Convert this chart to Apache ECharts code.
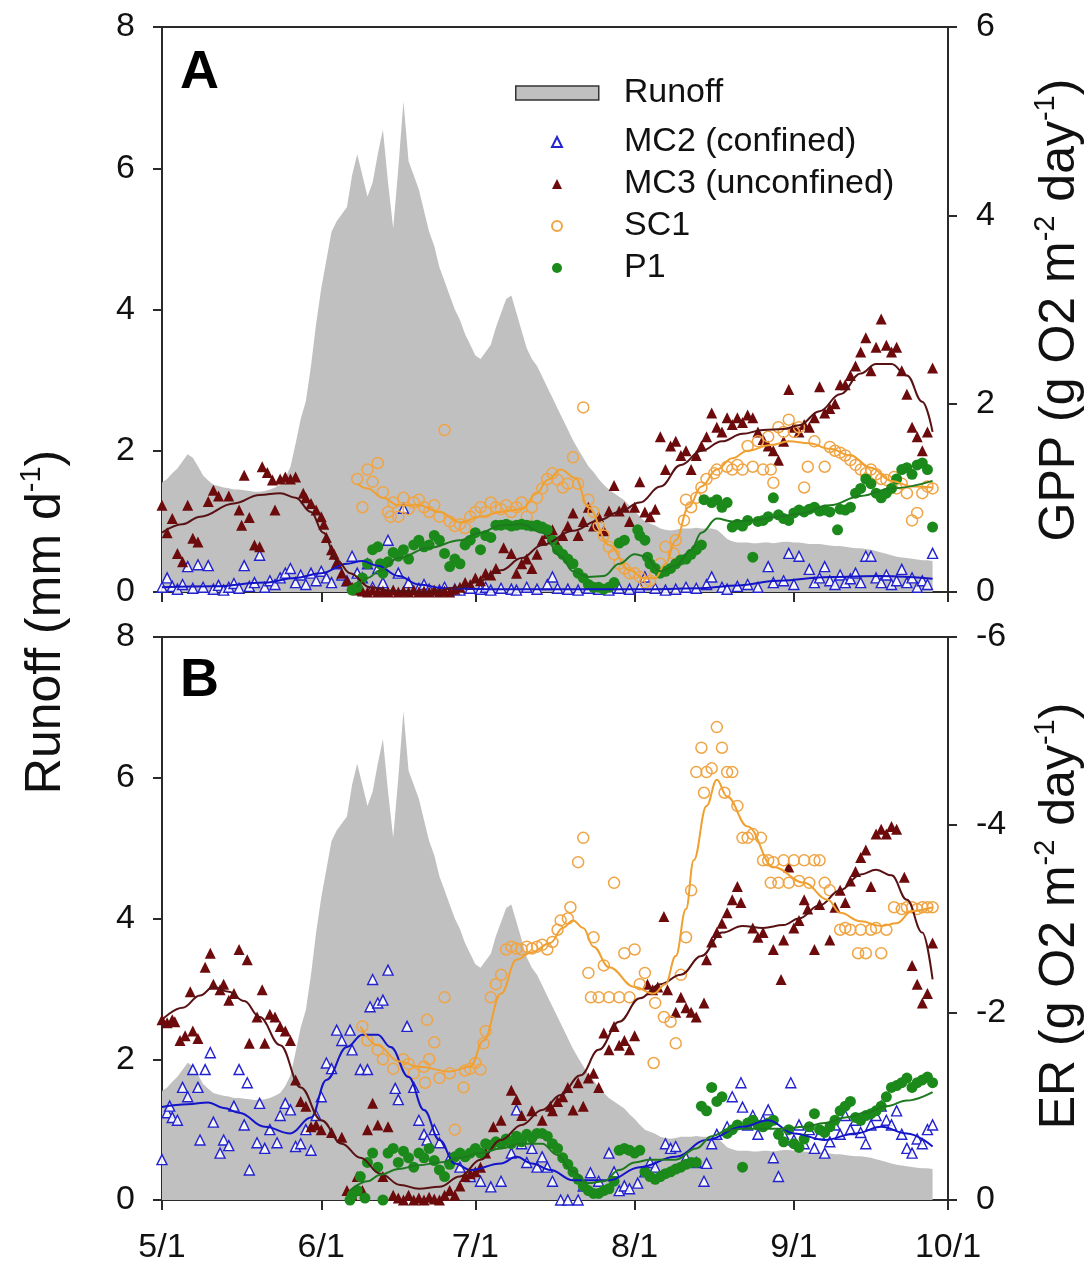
<!DOCTYPE html>
<html><head><meta charset="utf-8">
<script src="https://cdn.jsdelivr.net/npm/echarts@6/dist/echarts.min.js"></script>
<style>html,body{margin:0;padding:0;background:#fff}#c{width:1091px;height:1285px}</style>
</head><body><div id="c"></div>
<script>
// x = days since 5/1
const xTickDays = [0, 31, 61, 92, 123, 153];
const xTickLabels = ['5/1', '6/1', '7/1', '8/1', '9/1', '10/1'];
const yLeftTicks = [0, 2, 4, 6, 8];

// daily runoff (mm/d), day 0..150
const runoff = [1.55,1.6,1.68,1.75,1.85,1.95,1.9,1.78,1.65,1.58,1.52,1.5,1.48,1.47,1.45,1.45,1.44,1.43,1.42,1.42,
1.43,1.45,1.48,1.52,1.62,1.77,2.1,2.45,2.7,3.2,3.8,4.3,4.7,5.1,5.25,5.35,5.45,5.9,6.2,5.9,
5.6,5.8,6.2,6.55,5.8,5.15,6.0,6.95,6.1,5.9,5.7,5.4,5.1,4.9,4.6,4.4,4.2,4.0,3.85,3.65,
3.5,3.35,3.3,3.4,3.5,3.75,3.95,4.15,4.2,3.95,3.7,3.45,3.3,3.2,3.05,2.9,2.75,2.6,2.45,2.3,
2.15,2.02,1.9,1.78,1.7,1.6,1.52,1.45,1.4,1.35,1.3,1.22,1.15,1.07,1.0,0.97,0.94,0.9,0.88,0.87,
0.88,0.9,0.9,0.9,0.91,0.9,0.9,0.9,0.88,0.82,0.75,0.72,0.7,0.7,0.7,0.69,0.69,0.7,0.7,0.69,
0.7,0.71,0.71,0.7,0.7,0.69,0.68,0.68,0.68,0.67,0.66,0.65,0.65,0.64,0.63,0.62,0.62,0.61,0.6,0.58,
0.56,0.54,0.52,0.5,0.49,0.48,0.47,0.46,0.45,0.45,0.44];

// ---------- Panel A: GPP ----------
const mc2Gpp = [[0,0.05],[1,0.15],[2,0.06],[3,0.03],[4,0.08],[5,0.27],[6,0.04],[7,0.29],[8,0.05],[9,0.28],[10,0.03],[11,0.07],[12,0.02],[13,0.05],[14,0.09],[15,0.04],[16,0.28],[17,0.06],[18,0.1],[19,0.39],[20,0.05],[21,0.12],[22,0.08],[23,0.15],[24,0.2],[25,0.25],[26,0.1],[27,0.18],[28,0.08],[29,0.2],[30,0.12],[31,0.22],[32,0.15],[33,0.1],[34,0.3],[35,0.18],[36,0.12],[37,0.38],[38,0.2],[39,0.15],[40,0.3],[41,0.05],[42,0.25],[43,0.1],[44,0.55],[46,0.2],[47,0.89],[48,0.1],[50,0.04],[51,0.08],[52,0.03],[54,0.02],[55,0.05],[57,0.03],[58,0.02],[60,0.04],[62,0.03],[63,0.05],[64,0.02],[66,0.04],[68,0.03],[69,0.02],[71,0.05],[73,0.03],[75,0.08],[76,0.16],[77,0.04],[79,0.03],[81,0.02],[83,0.04],[85,0.03],[87,0.02],[89,0.04],[91,0.03],[93,0.05],[94,0.16],[96,0.04],[98,0.02],[100,0.03],[102,0.05],[104,0.04],[106,0.08],[107,0.16],[109,0.05],[110,0.03],[112,0.06],[114,0.08],[116,0.05],[118,0.27],[119,0.1],[121,0.12],[122,0.41],[123,0.08],[124,0.38],[126,0.24],[127,0.1],[128,0.15],[129,0.27],[130,0.12],[131,0.08],[132,0.18],[133,0.1],[134,0.14],[135,0.2],[136,0.1],[137,0.38],[138,0.38],[139,0.15],[140,0.1],[141,0.18],[142,0.08],[143,0.12],[144,0.24],[145,0.1],[146,0.15],[147,0.05],[148,0.12],[149,0.08],[150,0.41]];
const mc2GppFit = [[0,0.05],[10,0.06],[20,0.1],[26,0.15],[31,0.2],[36,0.3],[39,0.33],[42,0.28],[46,0.17],[50,0.08],[55,0.04],[65,0.03],[80,0.03],[95,0.03],[105,0.04],[112,0.07],[120,0.12],[130,0.16],[140,0.17],[150,0.14]];

const mc3Gpp = [[0,0.92],[1,0.63],[2,0.78],[3,0.41],[4,0.32],[5,0.92],[6,0.57],[7,0.53],[9,0.96],[10,1.08],[11,1.02],[13,1.02],[15,0.87],[15.5,0.71],[16,1.24],[17,0.79],[18,0.5],[19,0.48],[19.5,1.33],[20.5,1.27],[21.5,1.19],[22,0.87],[23,1.2],[24,1.22],[25,1.2],[26,1.22],[27.5,1.05],[28,1.0],[29,0.94],[30,0.87],[31,0.8],[31.5,0.72],[32,0.58],[33,0.45],[33.5,0.4],[34,0.31],[35,0.2],[36,0.12],[37,0.05],[38,0.02],[39,0.01],[40,0],[41,0.02],[42,0],[43,0.01],[44,0],[45,0.02],[46,0],[47,0.01],[48,0],[49,0.02],[50,0],[51,0.01],[52,0],[53,0.02],[54,0],[55,0.01],[56,0],[57,0.03],[58,0.05],[59,0.1],[60,0.08],[61,0.15],[62,0.12],[63,0.2],[64,0.18],[65,0.25],[66.5,0.47],[68,0.41],[69,0.2],[70,0.3],[71,0.35],[72,0.25],[73,0.4],[74,0.55],[75,0.62],[76,0.66],[77,0.5],[78,0.6],[79,0.7],[80,0.84],[81,0.6],[82,0.75],[83,0.9],[84,0.7],[85,0.8],[86,0.65],[87,0.86],[88,1.13],[89,0.86],[90,0.9],[91,0.75],[92,0.9],[93,1.17],[94,0.85],[95,0.8],[96,0.88],[97,1.65],[98,1.3],[99,1.55],[100,1.6],[101,1.45],[102,1.5],[103,1.3],[104,1.45],[105,1.55],[106,1.65],[107,1.9],[108,1.75],[109,1.7],[110,1.85],[111,1.78],[112,1.85],[113,1.8],[114,1.88],[115,1.85],[116,1.7],[117,1.62],[118,1.55],[119,1.5],[120,1.4],[121,1.6],[122,2.15],[123,1.75],[124,1.7],[125,1.78],[126,1.75],[127,1.85],[128,2.18],[129,1.9],[130,1.95],[131,2.0],[132,2.2],[133,2.2],[134,2.3],[135,2.4],[136,2.55],[137,2.7],[138,2.35],[139,2.6],[140,2.9],[141,2.62],[142,2.55],[143,2.6],[144,2.35],[145,2.1],[146,1.75],[147,1.65],[148,1.5],[149,1.7],[150,2.38]];
const mc3GppFit = [[0,0.63],[4,0.72],[7.4,0.8],[14,0.94],[19,1.03],[23,1.05],[26,1.0],[29,0.85],[31.4,0.63],[34,0.34],[36.6,0.2],[40.5,0.05],[45,0.01],[52,0],[58,0.05],[62,0.12],[66,0.23],[70,0.36],[74,0.5],[80,0.65],[85,0.76],[89,0.85],[93,0.95],[97,1.12],[101,1.35],[105,1.5],[109,1.6],[113,1.68],[117,1.72],[121,1.73],[124,1.77],[128,1.92],[132,2.1],[136,2.32],[139,2.42],[142,2.42],[145,2.3],[148,2.02],[150,1.7]];

const sc1Gpp = [[38,1.2],[39,0.9],[40,1.3],[41,1.17],[42,1.37],[43,1.06],[44,0.85],[44.5,0.8],[45,0.95],[46,0.8],[47,1.0],[48,0.88],[49,0.95],[50,0.98],[51,0.9],[52,0.85],[53,0.92],[54,0.8],[55,1.72],[56,0.75],[57,0.7],[58,0.72],[59,0.68],[60,0.8],[61,0.85],[62,0.9],[63,0.85],[64,0.95],[65,0.9],[66,0.88],[67,0.92],[68,0.85],[69,0.9],[70,0.95],[71,0.8],[72,0.9],[73,1.0],[74,1.1],[75,1.2],[76,1.26],[77,1.19],[78,1.11],[79,1.15],[80,1.43],[81,1.15],[82,1.96],[83,0.98],[84,0.85],[85,0.7],[86,0.6],[87,0.48],[88,0.4],[89,0.3],[90,0.25],[91,0.2],[92,0.2],[93,0.16],[94,0.1],[95,0.12],[96,0.2],[97,0.3],[98,0.48],[99.6,0.41],[100,0.55],[101.6,0.76],[102,0.98],[103,0.9],[104,1.0],[105,1.11],[106,1.2],[107.5,1.26],[108,1.3],[110,1.33],[111,1.3],[112,1.35],[113,1.3],[114,1.55],[115,1.33],[116,1.6],[117,1.3],[118,1.65],[118.5,1.3],[119,1.16],[120,1.75],[121,1.7],[122,1.83],[123,1.7],[124,1.75],[125,1.11],[125.7,1.33],[127,1.6],[129,1.33],[130,1.54],[131,1.5],[132,1.48],[133,1.45],[134,1.4],[135,1.35],[136,1.3],[137,1.26],[138,1.3],[139,1.25],[140,1.2],[141,1.19],[142.5,1.22],[143,1.1],[144,1.15],[145,1.05],[146,0.76],[147,0.84],[148,1.05],[149,1.12],[150,1.1]];
const sc1GppFit = [[38,1.15],[40,1.1],[43,1.0],[46,0.92],[50,0.92],[54,0.85],[58,0.74],[62,0.8],[66,0.85],[70,0.88],[73,1.05],[75,1.19],[77.6,1.3],[80.5,1.21],[83,0.9],[87,0.5],[91,0.23],[94,0.14],[96,0.15],[98,0.3],[100,0.55],[102.5,0.9],[105,1.12],[108,1.3],[111,1.42],[114,1.5],[118.5,1.56],[122,1.6],[126,1.58],[130,1.52],[134,1.45],[138,1.32],[142,1.18],[146,1.12],[150,1.11]];

const p1Gpp = [[37,0.02],[38,0.05],[39,0.15],[40,0.3],[41,0.45],[42,0.48],[42.5,0.3],[43,0.2],[44,0.32],[45,0.42],[46,0.38],[47,0.45],[48,0.35],[49,0.5],[50,0.55],[51,0.48],[52,0.5],[53,0.6],[54,0.55],[55,0.41],[56,0.27],[57,0.35],[58,0.3],[59,0.5],[60,0.55],[61,0.63],[62,0.45],[63,0.6],[64,0.58],[65,0.71],[66,0.71],[67,0.72],[68,0.7],[69,0.71],[70,0.72],[71,0.71],[72,0.7],[73,0.71],[74,0.69],[75,0.66],[76,0.55],[77,0.45],[78,0.4],[79,0.35],[80,0.3],[81,0.2],[82,0.15],[83,0.08],[84,0.05],[85,0.05],[86,0.03],[87,0.05],[88,0.1],[89,0.52],[90,0.55],[92.6,0.66],[93,0.6],[94,0.55],[94.5,0.37],[95,0.3],[96,0.25],[97,0.2],[98,0.22],[99,0.25],[100,0.3],[101,0.34],[102,0.35],[103,0.4],[104,0.45],[105,0.5],[105.5,0.98],[107,0.95],[108,0.98],[109,0.9],[110,0.95],[111,0.69],[112,0.72],[113,0.7],[114,0.76],[115,0.37],[116,0.75],[117,0.76],[118,0.8],[119,1.0],[120,0.82],[121,0.78],[122,0.76],[123,0.84],[124,0.87],[125,0.85],[126,0.88],[127,0.9],[128,0.86],[129,0.87],[130,0.85],[131.5,0.66],[132,0.88],[133,0.87],[134,0.9],[135,1.05],[136,1.1],[137,1.2],[138,1.15],[139,1.05],[140,1.0],[141,1.05],[142,1.1],[143,1.2],[144,1.3],[145,1.32],[146,1.25],[147,1.35],[148,1.37],[149,1.3],[150,0.69]];
const p1GppFit = [[38,0.05],[40,0.15],[42.5,0.23],[46,0.36],[52,0.47],[58,0.55],[62,0.63],[66,0.71],[70,0.72],[74,0.63],[77.6,0.38],[80,0.22],[83,0.16],[86,0.17],[89,0.3],[92,0.4],[94,0.38],[97,0.22],[100,0.28],[103,0.45],[105,0.63],[108,0.78],[111,0.75],[115,0.76],[120,0.8],[124,0.83],[130,0.92],[136,1.02],[142,1.1],[150,1.18]];

// ---------- Panel B: ER ----------
const mc2Er = [[0,-0.43],[1,-0.93],[1.5,-1.0],[2,-0.88],[3,-0.85],[4,-1.2],[5,-1.1],[6,-1.39],[7,-1.2],[7.4,-0.64],[8.4,-1.39],[9.4,-1.57],[10,-0.83],[11.3,-0.5],[12,-0.64],[13,-0.58],[14,-1.0],[15,-1.39],[16,-0.8],[16.6,-1.25],[17,-0.32],[18.5,-0.61],[19,-1.03],[20,-0.55],[21,-0.75],[22.4,-0.61],[23,-0.9],[24,-1.03],[25,-0.96],[26,-0.57],[27,-0.6],[28,-0.75],[29,-0.53],[30,-0.9],[31,-1.1],[32,-1.46],[33,-1.4],[34,-1.81],[35,-1.7],[36.6,-1.81],[37,-1.6],[38.6,-1.39],[40,-1.39],[40.5,-2.06],[41,-2.35],[42,-2.1],[43,-2.13],[44,-2.45],[45.4,-1.19],[46,-1.07],[47.7,-1.85],[49,-1.2],[50,-0.85],[51,-0.7],[51.6,-0.64],[53,-0.75],[54,-0.61],[56,-0.45],[58,-0.35],[60,-0.25],[62,-0.2],[64,-0.14],[66,-0.2],[68,-0.5],[69,-0.96],[70,-0.6],[71,-0.4],[72,-0.55],[73,-0.35],[74,-0.46],[75,-0.35],[76,-0.2],[77.6,0],[79,0],[81,0],[82,-0.15],[83.4,-0.29],[85,-0.2],[87,-0.5],[88,-0.3],[89,-0.1],[90,-0.15],[91,-0.12],[92.6,-0.18],[94,-0.3],[95,-0.4],[96,-0.35],[98,-0.6],[99,-0.55],[100,-0.57],[102,-0.45],[104,-0.4],[105.5,-0.2],[106,-0.39],[107,-0.6],[108,-0.7],[110,-0.78],[111,-1.1],[112.7,-1.25],[113,-0.99],[114,-0.8],[115,-0.9],[116,-0.7],[117,-0.85],[118,-0.96],[119,-0.45],[120,-0.25],[121,-0.7],[122.4,-1.25],[123,-0.64],[124,-0.8],[125,-0.6],[126,-0.75],[127,-0.55],[128,-0.7],[129,-0.5],[130,-0.62],[131,-0.8],[132,-0.7],[133,-0.9],[134,-0.75],[135,-0.85],[136,-0.72],[137,-0.6],[138,-0.8],[139,-0.9],[140,-1.0],[141,-0.85],[142,-0.8],[143,-0.95],[144,-0.7],[145,-0.55],[146,-0.5],[147,-0.65],[148,-0.6],[149,-0.75],[150,-0.8]];
const mc2ErFit = [[0,-0.99],[5,-1.02],[9,-1.04],[12,-0.98],[15,-0.93],[20,-0.78],[25,-0.71],[29,-0.88],[32,-1.28],[36,-1.63],[39,-1.76],[42,-1.76],[44.5,-1.63],[48,-1.31],[51,-0.96],[54,-0.64],[57,-0.39],[60,-0.32],[66,-0.39],[69,-0.46],[72,-0.39],[75.6,-0.32],[80,-0.21],[87,-0.21],[93,-0.35],[100,-0.46],[106,-0.64],[113,-0.78],[118,-0.85],[123,-0.71],[129,-0.64],[135,-0.71],[140,-0.78],[145,-0.71],[150,-0.57]];

const mc3Er = [[0,-1.92],[1,-1.89],[2,-1.92],[2.5,-1.9],[3.5,-1.7],[4.5,-1.75],[5.5,-2.22],[6,-1.8],[7,-1.72],[8.4,-2.48],[9.4,-2.63],[10,-2.3],[11.3,-2.24],[12,-2.3],[13,-2.13],[14,-2.2],[15,-2.67],[16.6,-2.56],[17,-1.67],[18.5,-1.95],[19.5,-2.24],[20,-1.67],[21,-1.98],[22,-1.95],[23,-1.85],[24,-1.8],[25,-1.7],[26,-1.28],[27,-1.05],[28,-1.0],[29,-0.78],[30,-0.8],[31,-0.75],[33,-0.72],[35,-0.67],[36,-0.1],[37,-0.05],[38,-0.25],[39,-0.1],[40,-0.75],[41,-1.03],[42,-0.8],[43,-0.25],[44,-0.78],[45,-0.05],[46,-0.02],[47,0],[48,-0.05],[49,0],[50,-0.02],[51,0],[52,-0.03],[53,-0.01],[54,0],[55,-0.05],[56,-0.1],[57,-0.05],[58,-0.15],[59,-0.25],[60,-0.28],[61,-0.3],[62,-0.35],[63,-0.5],[64.5,-0.78],[66,-0.85],[68,-1.17],[69,-1.07],[70,-0.9],[72,-0.95],[74,-0.85],[75.6,-1.0],[76,-0.95],[77,-1.05],[78,-1.1],[79,-1.2],[80,-0.96],[81,-1.25],[82,-1.0],[83,-1.3],[84,-1.35],[85,-1.2],[86,-1.78],[87,-1.6],[88,-1.85],[89,-1.65],[90,-1.7],[91,-1.6],[92,-1.75],[94.5,-2.3],[95.5,-2.24],[96.5,-2.27],[97.7,-3.02],[98.4,-2.24],[100,-2.0],[101,-2.16],[102,-2.05],[103,-2.0],[104,-1.95],[105.5,-2.1],[106,-2.56],[107,-2.75],[108,-2.85],[109,-2.95],[110,-3.06],[111,-3.2],[112,-3.34],[112.7,-3.17],[115,-2.9],[116,-2.8],[117,-2.85],[119,-2.67],[120.5,-2.35],[121,-2.77],[122,-3.55],[123,-2.9],[124,-2.98],[125,-3.2],[125.7,-3.1],[127,-2.67],[128,-3.15],[130,-2.77],[131,-3.12],[132,-3.3],[133,-3.17],[134,-3.4],[135,-3.5],[136,-3.65],[137,-3.73],[138,-3.34],[139,-3.9],[140,-3.95],[141,-3.9],[142,-3.98],[143,-3.95],[144.5,-3.44],[146,-2.5],[147,-2.3],[148,-2.1],[149,-2.2],[150,-2.74]];
const mc3ErFit = [[0,-1.92],[4,-2.05],[7.4,-2.18],[10,-2.27],[13,-2.22],[16,-2.12],[19,-1.95],[23,-1.65],[27,-1.2],[31,-0.85],[35,-0.6],[38.6,-0.45],[42.5,-0.28],[46.4,-0.16],[50,-0.12],[54,-0.14],[58,-0.25],[62,-0.43],[66,-0.64],[70,-0.8],[74,-0.96],[77.6,-1.12],[81.5,-1.33],[85,-1.6],[89,-1.9],[93,-2.15],[97,-2.3],[101,-2.4],[105,-2.6],[109,-2.85],[113,-2.92],[117,-2.9],[121,-2.93],[124,-3.0],[128,-3.14],[132,-3.3],[136,-3.47],[139,-3.52],[142,-3.46],[145,-3.2],[148,-2.85],[150,-2.35]];

const sc1Er = [[39,-1.85],[40,-1.7],[42,-1.6],[43,-1.5],[45,-1.4],[47,-1.5],[48,-1.45],[49,-1.35],[51,-1.42],[51.2,-1.25],[51.6,-1.92],[52,-1.5],[53,-1.68],[54,-1.3],[55,-2.16],[56,-1.35],[57,-0.75],[58.7,-1.2],[59,-1.38],[60,-1.4],[61,-1.46],[62,-1.39],[62.6,-1.67],[63,-1.8],[64,-2.16],[65,-2.3],[66,-2.4],[67,-2.67],[68,-2.7],[69,-2.68],[70,-2.67],[71,-2.7],[72,-2.68],[73,-2.7],[74,-2.72],[75,-2.67],[76,-2.75],[77,-2.88],[77.6,-2.98],[79,-3.0],[79.5,-3.12],[81,-3.6],[82,-3.86],[83,-2.42],[83.5,-2.16],[84,-2.8],[85,-2.16],[86,-2.5],[87,-2.16],[88,-3.38],[89,-2.16],[90,-2.63],[91,-2.16],[92,-2.67],[93,-2.3],[94,-2.42],[95.7,-1.46],[96,-2.1],[97.7,-1.95],[99,-1.9],[100,-1.67],[101,-2.4],[102,-2.8],[103,-3.3],[104,-4.56],[105,-4.82],[105.5,-4.34],[106,-4.56],[107,-4.6],[108,-5.04],[109,-4.82],[109.5,-4.34],[110,-4.56],[111,-4.56],[112,-4.2],[113,-3.86],[114,-3.86],[115,-3.9],[116.6,-3.86],[117,-3.62],[118,-3.62],[118.5,-3.38],[119,-3.6],[120,-3.38],[121,-3.62],[122,-3.38],[123,-3.62],[124,-3.4],[125,-3.62],[126,-3.38],[127,-3.62],[128,-3.62],[129,-3.38],[130,-3.3],[132,-2.88],[133,-2.9],[134,-2.88],[135.5,-2.63],[136,-2.88],[137,-2.63],[138,-2.88],[139,-2.9],[140,-2.63],[141,-2.88],[142.5,-3.12],[144,-3.1],[145,-3.12],[146,-3.12],[147,-3.1],[148,-3.12],[149,-3.12],[150,-3.12]];
const sc1ErFit = [[38.6,-1.85],[42,-1.65],[46,-1.48],[50,-1.42],[56,-1.37],[60,-1.42],[62.6,-1.7],[66,-2.2],[69,-2.56],[72,-2.64],[75.6,-2.74],[78,-2.9],[80,-2.98],[82,-2.9],[84,-2.7],[87,-2.48],[92,-2.27],[95.7,-2.2],[98,-2.3],[100,-2.6],[102,-3.1],[103.5,-3.62],[106,-4.2],[108,-4.48],[110,-4.3],[114,-3.98],[119,-3.55],[125,-3.38],[129.6,-3.2],[132,-3.06],[136,-2.97],[140,-2.92],[143,-2.95],[146,-3.08],[150,-3.12]];

const p1Er = [[36.6,0],[37,-0.05],[38,-0.1],[38.6,-0.25],[39.5,-0.02],[40,-0.4],[41,-0.5],[42,-0.35],[43,0],[44,-0.5],[45,-0.55],[46,-0.4],[47,-0.52],[48,-0.45],[49,-0.35],[50,-0.5],[51,-0.45],[52,-0.55],[53,-0.42],[54,-0.32],[55,-0.25],[56,-0.38],[57,-0.46],[58,-0.5],[59,-0.46],[60,-0.5],[61,-0.55],[62,-0.5],[63,-0.6],[64,-0.58],[65,-0.62],[66,-0.6],[67,-0.65],[68,-0.6],[69,-0.68],[70,-0.62],[71,-0.7],[72,-0.66],[73,-0.71],[74,-0.71],[75,-0.68],[76,-0.6],[77,-0.55],[78,-0.45],[79,-0.38],[80,-0.3],[81,-0.22],[82,-0.15],[83,-0.1],[84,-0.07],[85,-0.07],[86,-0.1],[87,-0.12],[88,-0.2],[89,-0.53],[90,-0.55],[91,-0.53],[92,-0.5],[93,-0.53],[94,-0.3],[95,-0.25],[96,-0.22],[97,-0.25],[98,-0.28],[99,-0.3],[100,-0.33],[101,-0.35],[102,-0.38],[103,-0.4],[104,-0.4],[105,-1.0],[106,-0.95],[107,-1.2],[108,-1.05],[109,-1.1],[110,-0.71],[111,-0.75],[112,-0.8],[113,-0.35],[114,-0.82],[115,-0.85],[116,-0.8],[117,-0.78],[118,-0.82],[119,-0.85],[120,-0.7],[121,-0.62],[122,-0.75],[123,-0.6],[124,-0.56],[125,-0.65],[126,-0.78],[127,-0.92],[128,-0.75],[129,-0.72],[130,-0.78],[131,-0.85],[132,-0.95],[133,-1.0],[134,-1.05],[135,-0.88],[136,-0.85],[137,-0.9],[138,-0.92],[139,-0.95],[140,-1.0],[141,-1.1],[142,-1.2],[143,-1.22],[144,-1.25],[145,-1.3],[146,-1.2],[147,-1.25],[148,-1.28],[149,-1.31],[150,-1.25]];
const p1ErFit = [[36.6,-0.1],[40,-0.2],[42.5,-0.27],[46,-0.33],[50,-0.37],[54,-0.4],[58,-0.45],[62,-0.5],[66,-0.55],[70,-0.6],[74,-0.6],[77,-0.48],[80,-0.3],[83,-0.18],[86,-0.2],[89,-0.32],[92,-0.4],[95,-0.43],[100,-0.43],[104,-0.55],[107,-0.68],[110,-0.74],[113,-0.76],[117,-0.76],[121,-0.76],[125,-0.78],[129,-0.82],[133,-0.88],[137,-0.93],[141,-1.0],[145,-1.06],[150,-1.15]];

// ---------- chart ----------
const FONT = '"Liberation Sans", Arial, Helvetica, sans-serif';
const AX = '#2a2a2a';
const chart = echarts.init(document.getElementById('c'), null, {renderer: 'canvas'});

const NAMES = {mc2: 'MC2 (confined)', mc3: 'MC3 (unconfined)', sc1: 'SC1', p1: 'P1'};
const STY = {
  mc2: {symbol: 'triangle', size: 10, fill: 'rgba(255,255,255,0.85)', stroke: '#2323cf', bw: 1.4, line: '#1414c8'},
  mc3: {symbol: 'triangle', size: 11, fill: '#6c0a0c', stroke: '#6c0a0c', bw: 0, line: '#581214'},
  sc1: {symbol: 'circle', size: 11, fill: 'rgba(255,255,255,0)', stroke: '#f0a444', bw: 1.5, line: '#f0a030'},
  p1:  {symbol: 'circle', size: 11, fill: '#1b8a1b', stroke: '#1b8a1b', bw: 0, line: '#1e7a1e'}
};

function xAx(gi, showLabels) {
  return {
    type: 'value', gridIndex: gi, min: 0, max: 153,
    splitLine: {show: false},
    axisLine: {show: true, onZero: false, lineStyle: {color: AX, width: 2}},
    axisTick: {show: true, customValues: xTickDays, length: 10, lineStyle: {color: AX, width: 2}},
    axisLabel: {show: showLabels, customValues: xTickDays,
      formatter: v => xTickLabels[xTickDays.indexOf(v)],
      fontSize: 34, color: '#111', margin: 31, fontFamily: FONT}
  };
}
function yAx(gi, pos, min, max, inverse) {
  return {
    type: 'value', gridIndex: gi, position: pos, min: min, max: max, interval: 2, inverse: !!inverse,
    splitLine: {show: false},
    axisLine: {show: true, onZero: false, lineStyle: {color: AX, width: 2}},
    axisTick: {show: true, length: 9, lineStyle: {color: AX, width: 2}},
    axisLabel: {fontSize: 34, color: '#111', margin: pos === 'left' ? 27 : 28, fontFamily: FONT, showMinLabel: true, showMaxLabel: true}
  };
}
function scat(key, data, xi, yi) {
  const s = STY[key];
  return {type: 'scatter', name: NAMES[key], data: data, xAxisIndex: xi, yAxisIndex: yi,
    symbol: s.symbol, symbolSize: s.size, z: 3,
    itemStyle: {color: s.fill, borderColor: s.stroke, borderWidth: s.bw, opacity: 1}};
}
function fit(key, data, xi, yi) {
  const s = STY[key];
  return {type: 'line', name: NAMES[key] + ' fit', data: data, xAxisIndex: xi, yAxisIndex: yi,
    smooth: 0.4, smoothMonotone: 'x', showSymbol: false, symbol: 'none', silent: true, z: 4,
    lineStyle: {color: s.line, width: 2}, itemStyle: {color: s.line}};
}
function runoffSeries(xi, yi) {
  return {type: 'line', name: 'Runoff', data: runoff.map((v, i) => [i, v]), xAxisIndex: xi, yAxisIndex: yi,
    showSymbol: false, symbol: 'none', silent: true, z: 1,
    lineStyle: {width: 0, color: '#c0c0c0'}, itemStyle: {color: '#c0c0c0'},
    areaStyle: {color: '#c0c0c0', opacity: 1}};
}

function titleText(x, y, main, sup1, mid, sup2, tail) {
  let t = '{t|' + main + '}{s|' + sup1 + '}';
  if (mid !== undefined) t += '{t|' + mid + '}{s|' + sup2 + '}';
  t += '{t|' + tail + '}';
  return {type: 'text', x: x, y: y, rotation: Math.PI / 2, z: 10,
    style: {text: t, align: 'center', verticalAlign: 'middle', fill: '#111',
      rich: {
        t: {fontSize: 50, fontFamily: FONT, fill: '#111', lineHeight: 54, verticalAlign: 'bottom'},
        s: {fontSize: 29, fontFamily: FONT, fill: '#111', lineHeight: 54, verticalAlign: 'top'}
      }}};
}

const option = {
  animation: false,
  backgroundColor: '#fff',
  grid: [
    {left: 162, top: 27, width: 786, height: 565, show: true, borderColor: AX, borderWidth: 2, backgroundColor: 'transparent'},
    {left: 162, top: 637, width: 786, height: 563, show: true, borderColor: AX, borderWidth: 2, backgroundColor: 'transparent'}
  ],
  xAxis: [xAx(0, false), xAx(1, true)],
  yAxis: [yAx(0, 'left', 0, 8), yAx(0, 'right', 0, 6), yAx(1, 'left', 0, 8), yAx(1, 'right', -6, 0, true)],
  legend: [
    {data: [{name: 'Runoff', icon: 'rect', itemStyle: {color: '#c0c0c0', borderColor: '#333', borderWidth: 1.5}}],
      orient: 'vertical', left: 510, top: 71, itemWidth: 83, itemHeight: 14, selectedMode: false,
      textStyle: {fontSize: 34, color: '#111', fontFamily: FONT, lineHeight: 34, padding: [0, 0, 0, 20]}},
    {data: [NAMES.mc2, NAMES.mc3, NAMES.sc1, NAMES.p1],
      orient: 'vertical', left: 546, top: 120, itemWidth: 10, itemHeight: 10, itemGap: 8,
      selectedMode: false,
      textStyle: {fontSize: 34, color: '#111', fontFamily: FONT, lineHeight: 34, padding: [0, 0, 0, 57]}}
  ],
  graphic: [
    {type: 'text', left: 180, top: 46, z: 10, style: {text: 'A', fontSize: 54, fontWeight: 'bold', fontFamily: FONT, fill: '#000'}},
    {type: 'text', left: 180, top: 654, z: 10, style: {text: 'B', fontSize: 54, fontWeight: 'bold', fontFamily: FONT, fill: '#000'}},
    titleText(44, 622, 'Runoff (mm d', '-1', undefined, undefined, ')'),
    titleText(1058, 310, 'GPP (g O2 m', '-2', ' day', '-1', ')'),
    titleText(1058, 916, 'ER (g O2 m', '-2', ' day', '-1', ')')
  ],
  series: [
    runoffSeries(0, 0),
    scat('mc2', mc2Gpp, 0, 1), scat('mc3', mc3Gpp, 0, 1), scat('sc1', sc1Gpp, 0, 1), scat('p1', p1Gpp, 0, 1),
    fit('mc2', mc2GppFit, 0, 1), fit('mc3', mc3GppFit, 0, 1), fit('sc1', sc1GppFit, 0, 1), fit('p1', p1GppFit, 0, 1),
    runoffSeries(1, 2),
    scat('mc2', mc2Er, 1, 3), scat('mc3', mc3Er, 1, 3), scat('sc1', sc1Er, 1, 3), scat('p1', p1Er, 1, 3),
    fit('mc2', mc2ErFit, 1, 3), fit('mc3', mc3ErFit, 1, 3), fit('sc1', sc1ErFit, 1, 3), fit('p1', p1ErFit, 1, 3)
  ]
};
chart.setOption(option);
</script></body></html>
